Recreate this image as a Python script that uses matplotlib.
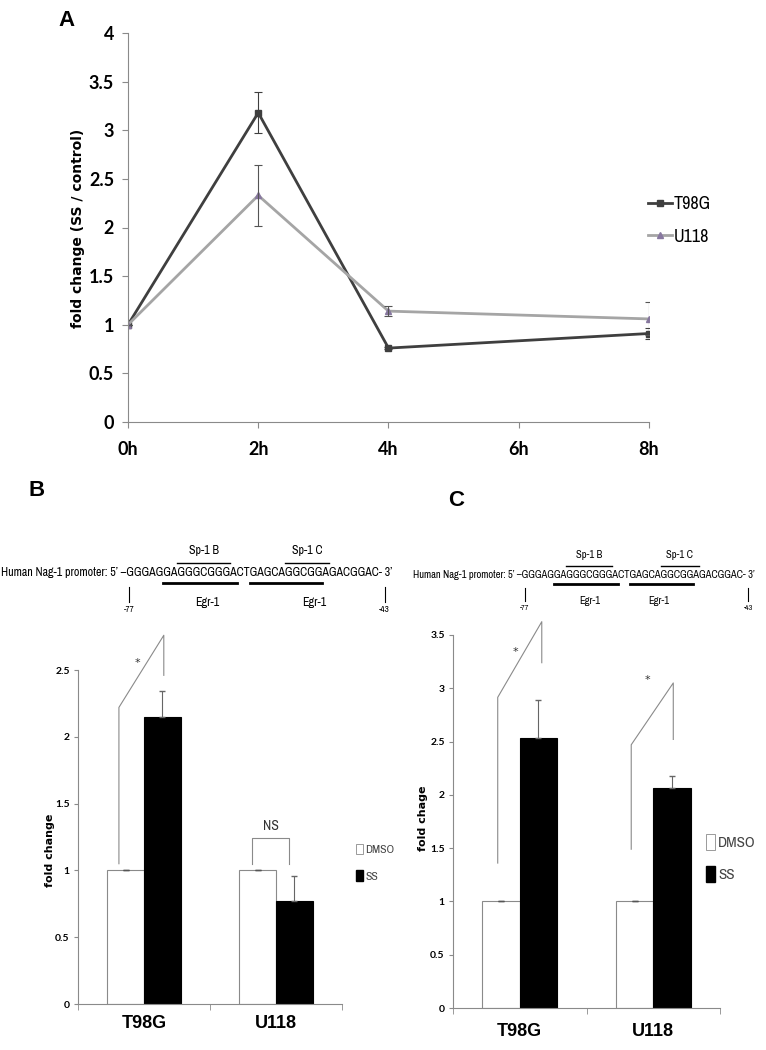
import matplotlib
matplotlib.use("Agg")
import matplotlib.pyplot as plt
from matplotlib import font_manager as fm
from matplotlib.patches import Patch

# ---- data ----
time_labels = ["0h", "2h", "4h", "6h", "8h"]
time_points = [0, 2, 4, 8]
t98g_time = [1.0, 3.18, 0.76, 0.91]
t98g_time_err = [0.0, 0.21, 0.01, 0.06]
u118_time = [1.0, 2.33, 1.14, 1.06]
u118_time_err = [0.0, 0.31, 0.05, 0.17]

cells = ["T98G", "U118"]
b_dmso = [1.0, 1.0]
b_ss = [2.15, 0.77]
b_ss_err = [0.195, 0.19]
c_dmso = [1.0, 1.0]
c_ss = [2.53, 2.06]
c_ss_err = [0.36, 0.12]

seq = "GGGAGGAGGGCGGGACTGAGCAGGCGGAGACGGAC"

W, H = 766, 1050
fig = plt.figure(figsize=(W / 100, H / 100), dpi=100)

def fx(px):
    return px / W

def fy(py):
    return 1 - py / H

# look for a narrow / condensed font, otherwise Lato (close to Calibri)
NARROW = dict(family="Lato")
for f in fm.fontManager.ttflist:
    if "Narrow" in f.name or "Condensed" in f.name:
        NARROW = dict(family=f.name)
        break
BOLDTICK = dict(family="Lato", weight="bold")

GRAY = "#8a8a8a"

def style_axes(ax):
    for s in ["top", "right"]:
        ax.spines[s].set_visible(False)
    for s in ["left", "bottom"]:
        ax.spines[s].set_color(GRAY)
        ax.spines[s].set_linewidth(0.8)
    ax.tick_params(colors=GRAY, width=0.8, length=4)

# ---------------- Panel A ----------------
axA = fig.add_axes([fx(128), fy(422), fx(649) - fx(128), fy(33) - fy(422)])
style_axes(axA)
lineT, = axA.plot(time_points, t98g_time, color="#3f3f3f", lw=2, marker="s", ms=5, label="T98G")
lineU, = axA.plot(time_points, u118_time, color="#a5a5a5", lw=2, marker="^", ms=5,
                  mfc="#8878a0", mec="#8878a0", label="U118")
axA.errorbar(time_points, t98g_time, yerr=t98g_time_err, fmt="none", ecolor="#3f3f3f",
             elinewidth=0.8, capsize=3, capthick=0.8)
axA.errorbar(time_points, u118_time, yerr=u118_time_err, fmt="none", ecolor="#555555",
             elinewidth=0.8, capsize=3, capthick=0.8)
axA.set_xlim(0, 8)
axA.set_ylim(0, 4)
axA.set_xticks([0, 2, 4, 6, 8])
axA.set_xticklabels(time_labels)
axA.set_yticks([0, 0.5, 1, 1.5, 2, 2.5, 3, 3.5, 4])
axA.set_yticklabels(["0", "0.5", "1", "1.5", "2", "2.5", "3", "3.5", "4"])
for lab in axA.get_xticklabels() + axA.get_yticklabels():
    lab.set_fontproperties(fm.FontProperties(size=13, **BOLDTICK))
    lab.set_color("black")
axA.tick_params(axis="x", pad=10)
axA.tick_params(axis="y", pad=6)
fig.text(fx(78), fy(228), "fold change (SS / control)", rotation=90, ha="center", va="center",
         fontsize=10, fontweight="bold", family="DejaVu Sans")
fig.text(fx(58), fy(20), "A", fontsize=16, fontweight="bold", family="Liberation Sans",
         ha="left", va="center")
fig.legend(handles=[lineT, lineU], loc="upper left", bbox_to_anchor=(fx(632), fy(180)),
           frameon=False, handlelength=1.3, handletextpad=0.1, labelspacing=0.9,
           prop=fm.FontProperties(size=13, **NARROW))

# ---------------- promoter diagrams ----------------
renderer = fig.canvas.get_renderer()

def text_width(s, fs):
    t = fig.text(0, 0, s, fontproperties=fm.FontProperties(size=fs, **NARROW))
    w = t.get_window_extent(renderer).width
    t.remove()
    return w

def promoter(x0, x1, yc, k, egr_shift):
    prefix = "Human Nag-1 promoter: 5\u2019 \u2013"
    full = prefix + seq + "- 3\u2019"
    fs = 10 * (x1 - x0) / text_width(full, 10)
    fp = fm.FontProperties(size=fs, **NARROW)
    fig.text(fx(x0), fy(yc), full, fontproperties=fp, ha="left", va="center")
    n0 = len(prefix)

    def xat(i):
        # left edge of seq[i]
        return x0 + text_width(full[:n0 + i], fs)

    # Sp-1 overlines
    for (i, j), lab in [((7, 13), "Sp-1 B"), ((22, 27), "Sp-1 C")]:
        a, b = xat(i), xat(j + 1)
        fig.add_artist(plt.Line2D([fx(a), fx(b)], [fy(yc - 10 * k)] * 2, color="black", lw=1))
        fig.text(fx((a + b) / 2), fy(yc - 22 * k), lab, fontproperties=fp, ha="center", va="center")
    # Egr-1 underlines and labels
    for (i, j), dx in zip([(5, 14), (17, 26)], egr_shift):
        a, b = xat(i), xat(j + 1)
        fig.add_artist(plt.Line2D([fx(a), fx(b)], [fy(yc + 10 * k)] * 2, color="black", lw=2))
        fig.text(fx((a + b) / 2 + dx), fy(yc + 29 * k), "Egr-1", fontproperties=fp,
                 ha="center", va="center")
    # position marks
    small = fm.FontProperties(size=fs * 0.75, **NARROW)
    for px, lab in [(xat(0) + 3, "-77"), (xat(35) + 6 * k, "-43")]:
        fig.add_artist(plt.Line2D([fx(px)] * 2, [fy(yc + 14 * k), fy(yc + 29 * k)],
                                  color="black", lw=0.8))
        fig.text(fx(px), fy(yc + 37 * k), lab, fontproperties=small, ha="center", va="center")

promoter(1, 392, 573, 1.0, (7, 28))
promoter(413, 757, 575, 0.9, (4, -3))

fig.text(fx(28), fy(490), "B", fontsize=16, fontweight="bold", family="Liberation Sans",
         ha="left", va="center")
fig.text(fx(448), fy(500), "C", fontsize=16, fontweight="bold", family="Liberation Sans",
         ha="left", va="center")

# ---------------- bar panels ----------------
bw = 0.28

def bar_panel(rect, dmso, ss, ss_err, ymax, tick_fs, xpad):
    ax = fig.add_axes(rect)
    style_axes(ax)
    x = list(range(len(cells)))
    ax.bar([i - bw / 2 for i in x], dmso, width=bw, color="white", edgecolor=GRAY, lw=0.8)
    ax.bar([i + bw / 2 for i in x], ss, width=bw, color="black", edgecolor="black", lw=0.8)
    ax.errorbar([i - bw / 2 for i in x], dmso, yerr=[[0, 0], [0, 0]], fmt="none",
                ecolor="#555555", elinewidth=0.8, capsize=2)
    ax.errorbar([i + bw / 2 for i in x], ss, yerr=[[0] * len(ss), ss_err], fmt="none",
                ecolor="#666666", elinewidth=0.8, capsize=2)
    ax.set_xlim(-0.5, 1.5)
    ax.set_ylim(0, ymax)
    ax.set_xticks(x)
    ax.set_xticklabels(cells, fontsize=13, fontweight="bold", family="Liberation Sans")
    ax.set_xticks([-0.5, 0.5, 1.5], minor=True)
    ax.tick_params(axis="x", which="major", length=0, pad=xpad, labelcolor="black")
    ax.tick_params(axis="x", which="minor", length=4, color=GRAY)
    yt = [k * 0.5 for k in range(int(ymax / 0.5) + 1)]
    ax.set_yticks(yt)
    ax.set_yticklabels([("%g" % v) for v in yt])
    for lab in ax.get_yticklabels():
        lab.set_fontproperties(fm.FontProperties(size=tick_fs, **BOLDTICK))
        lab.set_color("black")
    ax.tick_params(axis="y", pad=3, length=3)
    return ax

def bracket(ax, pts, star=None):
    xs, ys = zip(*pts)
    ax.plot(xs, ys, color=GRAY, lw=0.8, clip_on=False)
    if star is not None:
        ax.text(star[0], star[1], star[2], ha="center", va="center", fontsize=star[3],
                color="#333333", clip_on=False, family=star[4])

axB = bar_panel([fx(78), fy(1004), fx(342) - fx(78), fy(670) - fy(1004)],
                b_dmso, b_ss, b_ss_err, 2.5, 7.5, 8)
bracket(axB, [(-0.19, 1.05), (-0.19, 2.22), (0.15, 2.76), (0.15, 2.46)],
        (-0.05, 2.55, "*", 8, "DejaVu Sans"))
bracket(axB, [(0.82, 1.05), (0.82, 1.245), (1.1, 1.245), (1.1, 1.05)],
        (0.96, 1.33, "NS", 10, NARROW["family"]))
fig.text(fx(50), fy(850), "fold change", rotation=90, ha="center", va="center",
         fontsize=8, fontweight="bold", family="DejaVu Sans")
legB = [Patch(facecolor="white", edgecolor=GRAY, lw=0.6, label="DMSO"),
        Patch(facecolor="black", edgecolor="black", label="SS")]
fig.legend(handles=legB, loc="upper left", bbox_to_anchor=(fx(345), fy(833)), frameon=False,
           handlelength=0.6, handleheight=1.0, handletextpad=0.2, labelspacing=1.3,
           prop=fm.FontProperties(size=8.5, **NARROW), labelcolor="#444444")

axC = bar_panel([fx(453), fy(1008), fx(720) - fx(453), fy(635) - fy(1008)],
                c_dmso, c_ss, c_ss_err, 3.5, 7.5, 11)
bracket(axC, [(-0.165, 1.36), (-0.165, 2.915), (0.165, 3.625), (0.165, 3.24)],
        (-0.03, 3.34, "*", 8, "DejaVu Sans"))
bracket(axC, [(0.835, 1.49), (0.835, 2.47), (1.15, 3.05), (1.15, 2.52)],
        (0.96, 3.08, "*", 8, "DejaVu Sans"))
fig.text(fx(423), fy(818), "fold chage", rotation=90, ha="center", va="center",
         fontsize=8, fontweight="bold", family="DejaVu Sans")
legC = [Patch(facecolor="white", edgecolor=GRAY, lw=0.6, label="DMSO"),
        Patch(facecolor="black", edgecolor="black", label="SS")]
fig.legend(handles=legC, loc="upper left", bbox_to_anchor=(fx(692), fy(820)), frameon=False,
           handlelength=0.6, handleheight=1.3, handletextpad=0.2, labelspacing=1.0,
           prop=fm.FontProperties(size=11, **NARROW), labelcolor="#444444")

fig.savefig("out.png", dpi=100)
